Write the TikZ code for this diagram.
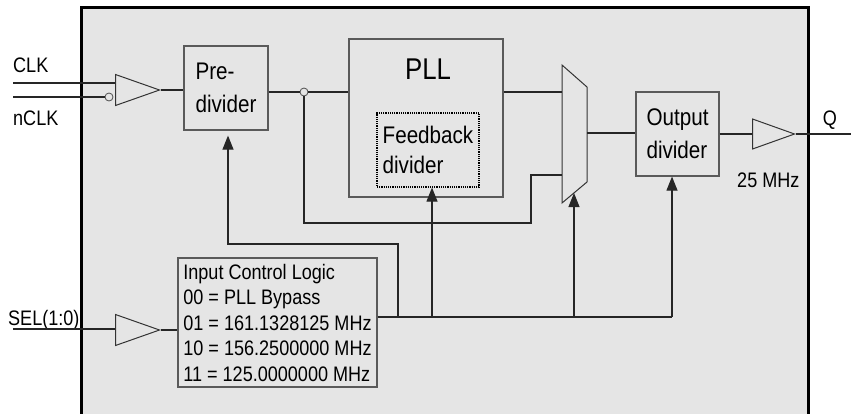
\documentclass[tikz,border=0pt]{standalone}
\usepackage{fontspec}
\setmainfont{Liberation Sans}[FakeStretch=0.86]
\usetikzlibrary{shapes.geometric, arrows.meta, positioning}
\definecolor{panelgray}{HTML}{E5E5E5}
\definecolor{wiregray}{HTML}{262626}
\definecolor{boxgray}{HTML}{5A5A5A}

\tikzset{
  block/.style={draw=boxgray, line width=1.2pt, inner sep=0pt, align=left, font=\fontsize{24}{33}\selectfont},
  buffer/.style={draw=black!80, line width=1pt, isosceles triangle, isosceles triangle stretches, minimum width=31pt, minimum height=44pt, inner sep=0pt},
  wire/.style={draw=wiregray, line width=1.1pt},
  ctrl/.style={wire, -{Triangle[length=14pt,width=11pt]}},
  pin/.style={font=\fontsize{21}{25}\selectfont, inner sep=0pt},
  bubble/.style={circle, draw=black!70, fill=panelgray, line width=0.8pt, minimum size=8pt, inner sep=0pt},
}

\begin{document}
\begin{tikzpicture}[x=1pt, y=-1pt]
	\useasboundingbox (0,0) rectangle (851,413);
	% chip outline
	\fill[panelgray] (81,7) rectangle (808,420);
	\draw[line width=3pt] (81,420) -- (81,7) -- (808,7) -- (808,420);

	% blocks
	\node[block, minimum width=84pt, minimum height=84pt] (prediv) at (226,88) {Pre-\\divider};
	\node[block, minimum width=154pt, minimum height=158pt] (pll) at (426,118) {};
	\node[font=\fontsize{30}{30}\selectfont, inner sep=0pt] (plltext) at (428,69) {PLL};
	\node[block, draw=black, densely dotted, minimum width=102pt, minimum height=74pt, font=\fontsize{24}{30}\selectfont] (fbdiv) at (428,150) {Feedback\\divider};
	\node[block, minimum width=83pt, minimum height=84pt] (outdiv) at (677.5,134) {Output\\divider};
	\node[block, minimum width=199pt, minimum height=129pt, font=\fontsize{21}{25.5}\selectfont] (logic) at (277.5,322.5)
		{Input Control Logic\\00 = PLL Bypass\\01 = 161.1328125 MHz\\10 = 156.2500000 MHz\\11 = 125.0000000 MHz};

	% buffers and mux
	\node[buffer, anchor=lower side] (inbuf) at (115,90) {};
	\node[buffer, anchor=lower side] (selbuf) at (115,330) {};
	\node[buffer, anchor=lower side, minimum width=30pt, minimum height=42pt] (outbuf) at (752,134) {};
	\draw[draw=black!80, line width=1pt, fill=panelgray] (562,65) -- (587,87) -- (587,182) -- (562,203) -- cycle;
	\coordinate (muxin1) at (562,92);
	\coordinate (muxin2) at (562,175);
	\coordinate (muxout) at (587,133);
	\coordinate (muxsel) at (574,193);

	% pins
	\coordinate (clkpin) at (13,83);
	\coordinate (nclkpin) at (13,97);
	\coordinate (selpin) at (13,329);
	\coordinate (qpin) at (851,134);
	\node[pin, anchor=base west] (clklabel) at (13,72) {CLK};
	\node[pin, anchor=base west] (nclklabel) at (13,125) {nCLK};
	\node[pin, anchor=base west] (sellabel) at (8,325) {SEL(1:0)};
	\node[pin, anchor=base] (qlabel) at (830,125) {Q};
	\node[pin, anchor=base west] (freqlabel) at (737,187) {25 MHz};
	\node[bubble] (nclkbub) at (109,97) {};
	\node[bubble] (tap) at (304,92) {};

	% signal path
	\draw[wire] (clkpin) -- (clkpin -| inbuf.lower side);
	\draw[wire] (nclkpin) -- (nclkbub);
	\draw[wire] (inbuf.apex) -- (inbuf.apex -| prediv.west);
	\draw[wire] (prediv.east |- tap) -- (tap) -- (tap -| pll.west);
	\draw[wire] (tap) |- (531,223) |- (muxin2);
	\draw[wire] (pll.east |- muxin1) -- (muxin1);
	\draw[wire] (muxout) -- (muxout -| outdiv.west);
	\draw[wire] (outdiv.east |- outbuf.lower side) -- (outbuf.lower side);
	\draw[wire] (outbuf.apex) -- (qpin);
	\draw[wire] (selpin) -- (selpin -| selbuf.lower side);
	\draw[wire] (selbuf.apex) -- (selbuf.apex -| logic.west);

	% select lines
	\coordinate (busend) at (672,317);
	\coordinate (pretap) at (398,317);
	\draw[wire] (logic.east |- busend) -- (busend);
	\draw[ctrl] (busend) -- (busend |- outdiv.south);
	\draw[ctrl] (pretap) |- ([xshift=2pt]prediv.south |- 0,244) -- ([xshift=2pt,yshift=-5pt]prediv.south);
	\draw[ctrl] ([xshift=4pt]fbdiv.south |- busend) -- ([xshift=4pt]fbdiv.south);
	\draw[ctrl] (muxsel |- busend) -- (muxsel);
\end{tikzpicture}
\end{document}
